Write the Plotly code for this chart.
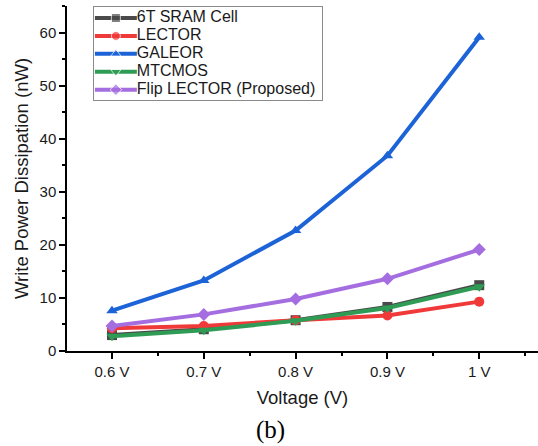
import plotly.graph_objects as go

# Supply voltages and their axis labels
voltages = [0.6, 0.7, 0.8, 0.9, 1.0]
voltage_labels = ["0.6 V", "0.7 V", "0.8 V", "0.9 V", "1 V"]

# Write power dissipation (nW) per cell design
sram_6t = [3.0, 4.1, 5.8, 8.3, 12.4]
lector = [4.3, 4.7, 5.8, 6.7, 9.3]
galeor = [7.6, 13.3, 22.7, 36.8, 59.1]
mtcmos = [2.8, 3.9, 5.7, 8.1, 12.1]
flip_lector = [4.7, 6.9, 9.8, 13.6, 19.1]

y_ticks = [0, 10, 20, 30, 40, 50, 60]

series = [
    ("6T SRAM Cell", sram_6t, "#4a4a4a", "square"),
    ("LECTOR", lector, "#f03a3a", "circle"),
    ("GALEOR", galeor, "#1d63d8", "triangle-up"),
    ("MTCMOS", mtcmos, "#2f9c55", "triangle-down"),
    ("Flip LECTOR (Proposed)", flip_lector, "#a56ee0", "diamond"),
]

SANS = "Liberation Sans, Arial, sans-serif"
LINE_W = 4
MARKER = 10

fig = go.Figure()
for name, vals, color, symbol in series:
    fig.add_trace(go.Scatter(
        x=voltages, y=vals, name=name, mode="lines+markers",
        line=dict(color=color, width=LINE_W),
        marker=dict(color=color, symbol=symbol, size=MARKER),
        showlegend=False,
    ))

# Compact boxed legend on its own small axis pair (one row per series)
swatch_left, swatch_right, label_x = 0.004, 0.188, 0.188
for row, (name, vals, color, symbol) in enumerate(series):
    mid = (swatch_left + swatch_right) / 2
    fig.add_trace(go.Scatter(
        x=[swatch_left, mid, swatch_right], y=[row, row, row],
        xaxis="x2", yaxis="y2", mode="lines+markers",
        line=dict(color=color, width=LINE_W),
        marker=dict(color=color, symbol=symbol, size=[0, 9, 0]),
        showlegend=False, hoverinfo="skip",
    ))
    fig.add_trace(go.Scatter(
        x=[label_x], y=[row], xaxis="x2", yaxis="y2", mode="text",
        text=[name], textposition="middle right",
        textfont=dict(family=SANS, size=16, color="#1a1a1a"),
        showlegend=False, hoverinfo="skip",
    ))

fig.update_layout(
    width=538, height=446,
    margin=dict(l=67, r=0, t=6, b=95),
    paper_bgcolor="white", plot_bgcolor="white",
    font=dict(family=SANS, size=15, color="#1a1a1a"),
    showlegend=False,
    xaxis=dict(
        range=[0.551, 1.064],
        tickvals=voltages, ticktext=voltage_labels,
        showline=True, linecolor="black", linewidth=1.5,
        ticks="outside", ticklen=6, tickwidth=1.5, tickcolor="black",
        minor=dict(ticks="outside", ticklen=3, dtick=0.05, tick0=0.55,
                   tickcolor="black", tickwidth=1.5),
        showgrid=False, zeroline=False,
        title=dict(text="Voltage (V)", font=dict(size=18.5), standoff=12),
        tickfont=dict(size=15),
    ),
    yaxis=dict(
        range=[0, 65],
        tickvals=y_ticks,
        showline=True, linecolor="black", linewidth=1.5,
        ticks="outside", ticklen=6, tickwidth=1.5, tickcolor="black",
        minor=dict(ticks="outside", ticklen=3, dtick=5, tickcolor="black",
                   tickwidth=1.5),
        showgrid=False, zeroline=False,
        title=dict(text="Write Power Dissipation (nW)", font=dict(size=18.5), standoff=6),
        tickfont=dict(size=15),
    ),
    xaxis2=dict(
        domain=[0.0573, 0.5414], anchor="y2", range=[0, 1],
        showline=True, mirror=True, linecolor="#8a8a8a", linewidth=1,
        showticklabels=False, ticks="", showgrid=False, zeroline=False,
        fixedrange=True,
    ),
    yaxis2=dict(
        domain=[0.7275, 0.9971], anchor="x2", range=[4.575, -0.615],
        showline=True, mirror=True, linecolor="#8a8a8a", linewidth=1,
        showticklabels=False, ticks="", showgrid=False, zeroline=False,
        fixedrange=True,
    ),
)

fig.add_annotation(
    text="(b)", xref="paper", yref="paper", x=0.433, y=-0.229,
    xanchor="center", yanchor="middle", showarrow=False,
    font=dict(family="Liberation Serif, Times New Roman, serif", size=25, color="black"),
)

fig.write_html("out.html")
